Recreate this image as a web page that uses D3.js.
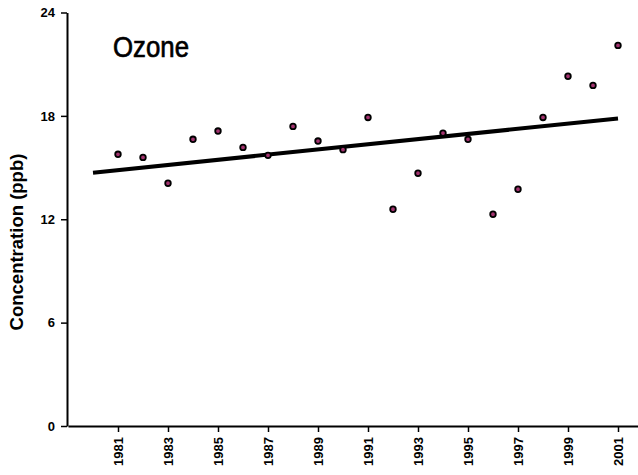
<!DOCTYPE html>
<html>
<head>
<meta charset="utf-8">
<script src="https://cdn.jsdelivr.net/npm/d3@7"></script>
<style>
  body { margin: 0; background: #fff; }
  svg { display: block; }
</style>
</head>
<body>
<div id="chart"></div>
<script>
// yearly ozone values
const years = [1981, 1982, 1983, 1984, 1985, 1986, 1987, 1988, 1989, 1990, 1991,
  1992, 1993, 1994, 1995, 1996, 1997, 1998, 1999, 2000, 2001];
const ozone = [15.77, 15.59, 14.09, 16.64, 17.12, 16.17, 15.71, 17.39, 16.54, 16.04, 17.91,
  12.58, 14.67, 17.0, 16.64, 12.29, 13.74, 17.91, 20.3, 19.77, 22.09];
// trend line end points
const trendYears = [1980, 2001];
const trendValues = [14.7, 17.85];
const yTicks = [0, 6, 12, 18, 24];
const xTicks = [1981, 1983, 1985, 1987, 1989, 1991, 1993, 1995, 1997, 1999, 2001];

const width = 638, height = 475;
const font = 'Arial, "Liberation Sans", sans-serif';

const svg = d3.select('#chart').append('svg')
  .attr('width', width)
  .attr('height', height)
  .style('font-family', font);

const x = d3.scaleLinear().domain([1979, 2001.8]).range([68, 638]);
const y = d3.scaleLinear().domain([0, 24]).range([426, 12.5]);

// y axis
const yAxis = svg.append('g')
  .attr('transform', `translate(${x(1979) - 1},0)`)
  .call(d3.axisLeft(y).tickValues(yTicks).tickSizeInner(6).tickSizeOuter(0).tickPadding(6));
yAxis.select('.domain').attr('stroke-width', 2);
yAxis.selectAll('.tick line').attr('stroke-width', 1.5);
yAxis.selectAll('.tick text')
  .attr('font-size', 13)
  .attr('font-weight', 'bold')
  .attr('font-family', font)
  .attr('fill', '#000');

// x axis
const xAxis = svg.append('g')
  .attr('transform', `translate(0,${y(0)})`)
  .call(d3.axisBottom(x).tickValues(xTicks).tickFormat(d3.format('d')).tickSizeInner(6).tickSizeOuter(0));
xAxis.select('.domain').attr('stroke-width', 2);
xAxis.selectAll('.tick line').attr('stroke-width', 1.5);
xAxis.selectAll('.tick text')
  .attr('font-size', 13)
  .attr('font-weight', 'bold')
  .attr('font-family', font)
  .attr('fill', '#000')
  .attr('text-anchor', 'end')
  .attr('transform', 'rotate(-90)')
  .attr('x', -11)
  .attr('y', 0)
  .attr('dy', '0.35em');

// y title
svg.append('text')
  .attr('transform', 'translate(17,242) rotate(-90)')
  .attr('text-anchor', 'middle')
  .attr('dy', '0.35em')
  .attr('font-size', 18.5)
  .attr('font-weight', 'bold')
  .text('Concentration (ppb)');

// chart title, narrow face a bit heavier
svg.append('text')
  .attr('transform', 'translate(113,57) scale(0.86,1)')
  .attr('font-size', 30)
  .attr('stroke', '#000')
  .attr('stroke-width', 0.7)
  .text('Ozone');

// trend line
svg.append('line')
  .attr('x1', x(trendYears[0]))
  .attr('y1', y(trendValues[0]))
  .attr('x2', x(trendYears[1]))
  .attr('y2', y(trendValues[1]))
  .attr('stroke', '#000')
  .attr('stroke-width', 4);

// points
svg.selectAll('.pt')
  .data(years)
  .enter()
  .append('circle')
  .attr('class', 'pt')
  .attr('cx', d => x(d))
  .attr('cy', (d, i) => y(ozone[i]))
  .attr('r', 2.8)
  .attr('fill', '#a3336f')
  .attr('stroke', '#000')
  .attr('stroke-width', 1.8);
</script>
</body>
</html>
